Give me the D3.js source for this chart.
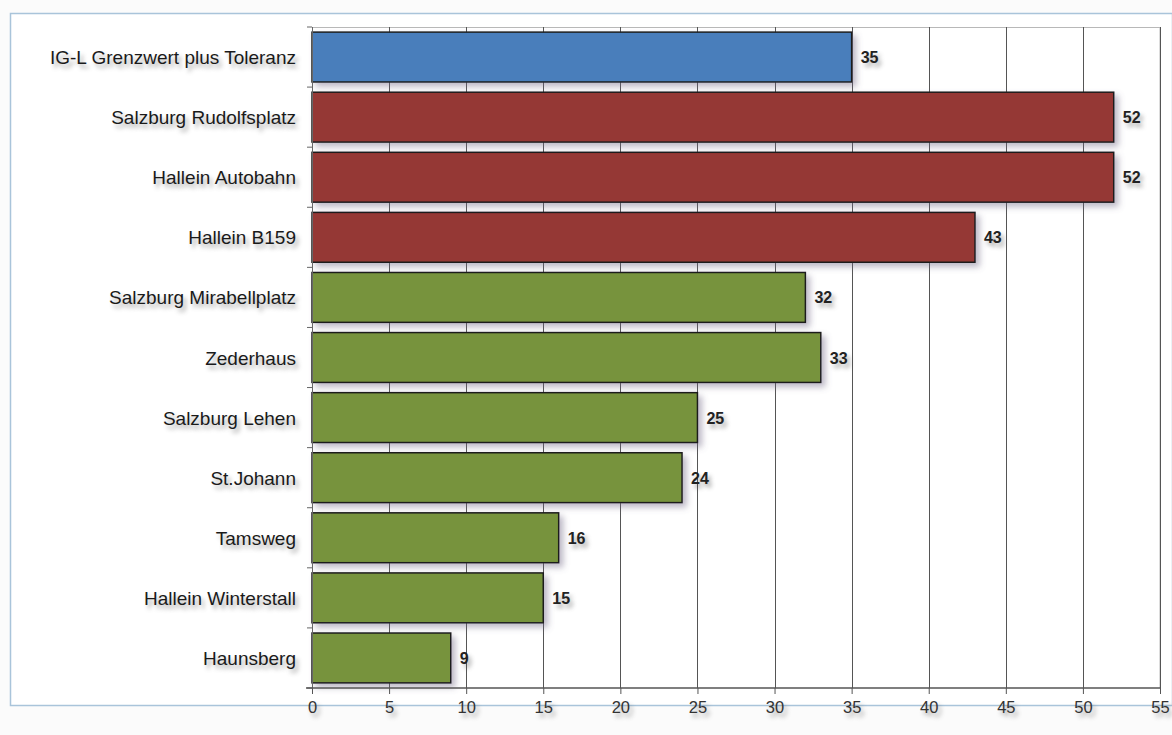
<!DOCTYPE html>
<html>
<head>
<meta charset="utf-8">
<script src="https://cdn.jsdelivr.net/npm/d3@7"></script>
<style>
  body { margin: 0; background: #fbfbfb; }
  svg { display: block; font-family: "Liberation Sans", Arial, sans-serif; }
  .soft { text-shadow: 3px 4px 4px rgba(70, 70, 70, 0.45); }
</style>
</head>
<body>
<div id="chart"></div>
<script>
// Data
const stations = [
  "IG-L Grenzwert plus Toleranz", "Salzburg Rudolfsplatz", "Hallein Autobahn",
  "Hallein B159", "Salzburg Mirabellplatz", "Zederhaus", "Salzburg Lehen",
  "St.Johann", "Tamsweg", "Hallein Winterstall", "Haunsberg"
];
const values = [35, 52, 52, 43, 32, 33, 25, 24, 16, 15, 9];
const groups = ["limit", "over", "over", "over", "ok", "ok", "ok", "ok", "ok", "ok", "ok"];
const xTicks = [0, 5, 10, 15, 20, 25, 30, 35, 40, 45, 50, 55];

const colors = {limit: "#4a7ebb", over: "#953735", ok: "#77933c"};

const width = 1172;
const height = 735;
const margin = {top: 27, right: 12, bottom: 47, left: 312};
const innerWidth = 1160 - margin.left;
const innerHeight = 688 - margin.top;

const svg = d3.select("#chart")
  .append("svg")
    .attr("width", width)
    .attr("height", height);

// Bar shadow filter (large region in user space so nothing is clipped)
const defs = svg.append("defs");
const barShadow = defs.append("filter").attr("id", "barShadow")
  .attr("filterUnits", "userSpaceOnUse")
  .attr("x", -600).attr("y", -200).attr("width", 2000).attr("height", 1200);
barShadow.append("feDropShadow")
  .attr("dx", 4).attr("dy", 4).attr("stdDeviation", 3)
  .attr("flood-color", "#6a6080").attr("flood-opacity", 0.45);

// Outer frame
svg.append("rect")
  .attr("x", 10.5).attr("y", 13.5)
  .attr("width", width - 10).attr("height", 692)
  .attr("fill", "#ffffff")
  .attr("stroke", "#a9c4da")
  .attr("stroke-width", 1.5);

const inner = svg.append("g")
  .attr("transform", `translate(${margin.left}, ${margin.top})`);

// Scales
const xScale = d3.scaleLinear()
  .domain([0, 55])
  .range([0, innerWidth]);

const yScale = d3.scaleBand()
  .domain(stations)
  .range([0, innerHeight])
  .paddingInner(0.17)
  .paddingOuter(0.085);

// Plot border (top, right)
inner.append("path")
  .attr("d", `M0,0.5H${innerWidth}V${innerHeight}`)
  .attr("fill", "none")
  .attr("stroke", "#b8b8b8");

// Gridlines
inner.append("g")
  .selectAll("line")
  .data(xTicks.slice(1))
  .join("line")
    .attr("x1", d => Math.round(xScale(d)) + 0.5)
    .attr("x2", d => Math.round(xScale(d)) + 0.5)
    .attr("y1", 0)
    .attr("y2", innerHeight)
    .attr("stroke", "#555")
    .attr("stroke-width", 1);

// Bars
inner.append("g")
  .attr("filter", "url(#barShadow)")
  .selectAll("rect")
  .data(stations)
  .join("rect")
    .attr("x", 0)
    .attr("y", d => yScale(d))
    .attr("width", (d, i) => xScale(values[i]))
    .attr("height", yScale.bandwidth())
    .attr("fill", (d, i) => colors[groups[i]])
    .attr("stroke", "#1e1e1e")
    .attr("stroke-width", 1.5);

// Value labels
inner.append("g")
  .selectAll("text")
  .data(stations)
  .join("text")
    .attr("class", "soft")
    .text((d, i) => values[i])
    .attr("x", (d, i) => xScale(values[i]) + 9)
    .attr("y", d => yScale(d) + yScale.bandwidth() / 2 + 6)
    .attr("font-weight", "bold")
    .attr("font-size", 16)
    .attr("fill", "#222");

// Left axis
const leftAxis = inner.append("g");
leftAxis.append("line")
  .attr("x1", 0.5).attr("x2", 0.5)
  .attr("y1", 0).attr("y2", innerHeight)
  .attr("stroke", "#666");
const step = yScale.step();
leftAxis.selectAll(".band-tick")
  .data(d3.range(stations.length + 1))
  .join("line")
    .attr("class", "band-tick")
    .attr("x1", -5).attr("x2", 0)
    .attr("y1", i => yScale(stations[0]) - yScale.paddingOuter() * step + i * step)
    .attr("y2", i => yScale(stations[0]) - yScale.paddingOuter() * step + i * step)
    .attr("stroke", "#666");
leftAxis.selectAll(".cat-label")
  .data(stations)
  .join("text")
    .attr("class", "cat-label soft")
    .text(d => d)
    .attr("x", -16)
    .attr("y", d => yScale(d) + yScale.bandwidth() / 2 + 7)
    .attr("text-anchor", "end")
    .attr("font-size", 19)
    .attr("fill", "#1a1a1a");

// Bottom axis
const bottomAxis = d3.axisBottom(xScale)
  .tickValues(xTicks)
  .tickSize(6)
  .tickSizeOuter(0);
const bottom = inner.append("g")
  .attr("transform", `translate(0, ${innerHeight})`)
  .call(bottomAxis);
bottom.select(".domain")
  .attr("stroke", "#555")
  .attr("stroke-width", 1.5)
  .attr("d", `M-6,0H${innerWidth}`);
bottom.selectAll(".tick line").attr("stroke", "#555");
bottom.selectAll(".tick text")
  .attr("class", "soft")
  .attr("y", 13)
  .attr("font-family", "Liberation Sans, Arial, sans-serif")
  .attr("font-size", 16.5)
  .attr("fill", "#333");
</script>
</body>
</html>
